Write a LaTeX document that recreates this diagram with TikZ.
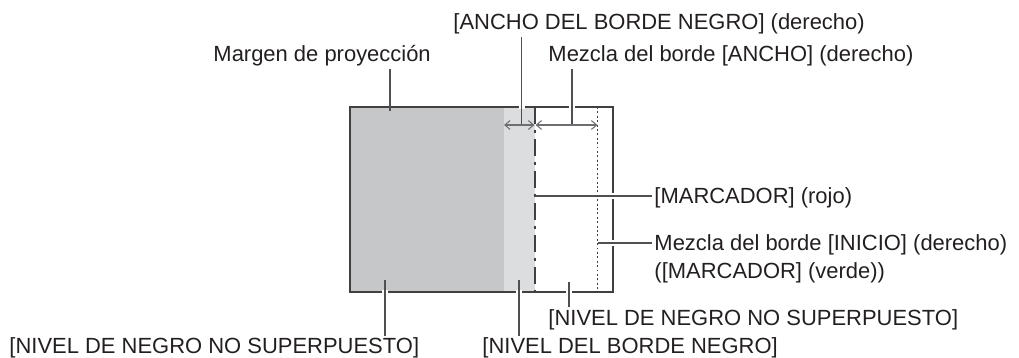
\documentclass[tikz,border=0pt]{standalone}
\usepackage{fontspec}
\setmainfont{Liberation Sans}
\usepackage{xcolor}
\usetikzlibrary{arrows.meta,calc}
\definecolor{MBDark}{HTML}{C6C7C9}
\definecolor{MBLight}{HTML}{DCDDDF}
\definecolor{MBLine}{HTML}{404041}
\definecolor{MBLead}{HTML}{505052}
\definecolor{MBArrow}{HTML}{6D6E71}
\definecolor{MBText}{HTML}{231F20}

\begin{document}
\begin{tikzpicture}[x=0.02cm,y=-0.02cm,
  lbl/.style={inner sep=0pt,outer sep=1.4pt,text=MBText,anchor=base west,font=\fontsize{12.5pt}{15.9pt}\selectfont},
  leader/.style={draw=MBLead,line width=0.75pt},
  halo/.style={draw=white,line width=2.2pt},
  span/.style={draw=MBArrow,line width=0.6pt,{Straight Barb[length=3pt,width=5pt]}-{Straight Barb[length=3pt,width=5pt]}}]
\path[use as bounding box] (0,0) rectangle (1019,358);
\coordinate (tl) at (350,107);
\coordinate (br) at (613,292);
\coordinate (edge) at (504,125);
\coordinate (mark) at (535,125);
\coordinate (start) at (597.5,125);
\fill[MBDark] (tl) rectangle (504,292);
\fill[MBLight] (504,107) rectangle (535,292);
\draw[MBLine,line width=1.1pt,dash pattern=on 9.7pt off 3.4pt on 1.7pt off 3.4pt] (mark |- tl) -- (mark |- br);
\draw[MBLine,line width=0.85pt,dash pattern=on 1.1pt off 1.4pt] (start |- tl) -- (start |- br);
\draw[MBLine,line width=1.1pt] (tl) rectangle (br);
\coordinate (pMargen) at (390,111);
\coordinate (pAncho) at (521.5,125);
\coordinate (pMezcla) at (572,125);
\coordinate (pMarc) at (535,196);
\coordinate (pInicio) at (597.5,243);
\coordinate (pNivelA) at (385,280);
\coordinate (pNivelB) at (519,280);
\coordinate (pNivelC) at (569,282);
\node[lbl] (ancho) at (451,30) {[ANCHO DEL BORDE NEGRO] (derecho)};
\node[lbl] (margen) at (211,62) {Margen de proyección};
\node[lbl] (mezcla) at (546,62) {Mezcla del borde [ANCHO] (derecho)};
\node[lbl] (marc) at (652,204) {[MARCADOR] (rojo)};
\node[lbl] (inicio) at (652,251) {Mezcla del borde [INICIO] (derecho)};
\node[lbl] (verde) at ([yshift=-15.9pt]inicio.base west) {([MARCADOR] (verde))};
\node[lbl] (nivelA) at (7,354) {[NIVEL DE NEGRO NO SUPERPUESTO]};
\node[lbl] (nivelB) at (480,354) {[NIVEL DEL BORDE NEGRO]};
\node[lbl] (nivelC) at (546,325) {[NIVEL DE NEGRO NO SUPERPUESTO]};
\foreach \p in {pAncho,pMezcla}
  \draw[halo] ($(\p |- tl)+(-3,0)$) -- ($(\p |- tl)+(3,0)$);
\foreach \p in {pNivelA,pNivelB,pNivelC}
  \draw[halo] ($(\p |- br)+(-3,0)$) -- ($(\p |- br)+(3,0)$);
\foreach \p in {pMarc,pInicio}
  \draw[halo] ($(\p -| br)+(0,-3)$) -- ($(\p -| br)+(0,3)$);
\draw[leader] (pMargen |- margen.south) -- (pMargen);
\draw[leader] (pAncho |- ancho.south) -- (pAncho);
\draw[leader] (pMezcla |- mezcla.south) -- (pMezcla);
\draw[leader] (pMarc) -- (pMarc -| marc.west);
\draw[leader] (pInicio) -- (pInicio -| inicio.west);
\draw[leader] (pNivelA) -- (pNivelA |- nivelA.north);
\draw[leader] (pNivelB) -- (pNivelB |- nivelB.north);
\draw[leader] (pNivelC) -- (pNivelC |- nivelC.north);
\draw[span,shorten >=0.3pt] (edge) -- (mark);
\draw[span,shorten <=0.3pt] (mark) -- (start);
\end{tikzpicture}
\end{document}
